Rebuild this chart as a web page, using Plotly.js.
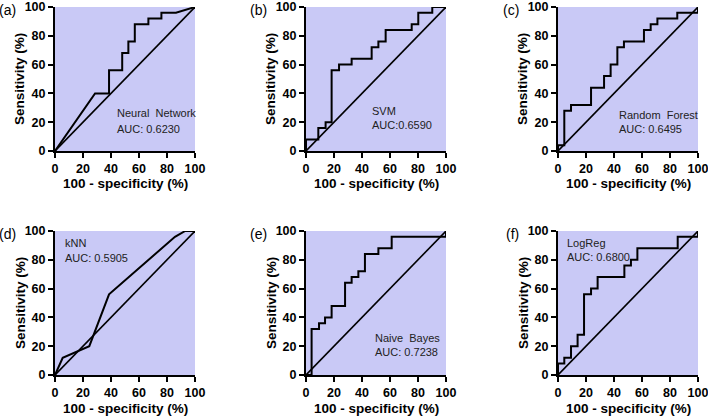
<!DOCTYPE html>
<html><head><meta charset="utf-8">
<script src="https://cdn.plot.ly/plotly-3.0.1.min.js"></script>
<style>html,body{margin:0;padding:0;background:#fff}#chart{width:708px;height:417px}</style>
</head><body><div id="chart"></div>
<script>
// ---- data ----
const panelLabels = ['(a)', '(b)', '(c)', '(d)', '(e)', '(f)'];
const modelNames = ['Neural\u00a0 Network', 'SVM', 'Random\u00a0 Forest', 'kNN', 'Naive\u00a0 Bayes', 'LogReg'];
const aucTexts = ['AUC: 0.6230', 'AUC:0.6590', 'AUC: 0.6495', 'AUC: 0.5905', 'AUC: 0.7238', 'AUC: 0.6800'];

const nnX = [0, 28.6, 38.6, 38.6, 48, 48, 52.4, 52.4, 57, 57, 66.7, 66.7, 76, 76, 86.4, 100];
const nnY = [0, 40, 40, 56, 56, 68, 68, 76, 76, 88, 88, 92, 92, 96, 96, 100];

const svmX = [0, 0, 8.8, 8.8, 14, 14, 18.3, 18.3, 23.6, 23.6, 32.6, 32.6, 46.9, 46.9, 51.7, 51.7, 56.9, 56.9, 75.5, 75.5, 80.2, 80.2, 90.2, 90.2, 100];
const svmY = [0, 8, 8, 16, 16, 20, 20, 56, 56, 60, 60, 64, 64, 72, 72, 76, 76, 84, 84, 88, 88, 96, 96, 100, 100];

const rfX = [0, 0, 4.5, 4.5, 9.3, 9.3, 23.6, 23.6, 32.9, 32.9, 37.6, 37.6, 42.4, 42.4, 47.1, 47.1, 61.4, 61.4, 66.2, 66.2, 71, 71, 85.2, 85.2, 100, 100];
const rfY = [0, 4, 4, 28, 28, 32, 32, 44, 44, 52, 52, 60, 60, 72, 72, 76, 76, 84, 84, 88, 88, 92, 92, 96, 96, 100];

const knnX = [0, 5.5, 24.5, 38.6, 85.7, 93, 100];
const knnY = [0, 12, 20, 56, 96, 100, 100];

const nbX = [0, 4, 4, 9.3, 9.3, 13.6, 13.6, 18.3, 18.3, 27.9, 27.9, 32.6, 32.6, 37.4, 37.4, 42.1, 42.1, 51.7, 51.7, 61.2, 61.2, 100, 100];
const nbY = [0, 0, 32, 32, 36, 36, 40, 40, 48, 48, 64, 64, 68, 68, 72, 72, 84, 84, 88, 88, 96, 96, 100];

const lrX = [0, 0, 4.5, 4.5, 9.3, 9.3, 14, 14, 18.6, 18.6, 23.6, 23.6, 28.3, 28.3, 47.4, 47.4, 52.1, 52.1, 56.7, 56.7, 85.5, 85.5, 100, 100];
const lrY = [0, 8, 8, 12, 12, 20, 20, 28, 28, 56, 56, 60, 60, 68, 68, 76, 76, 80, 80, 88, 88, 96, 96, 100];

const curvesX = [nnX, svmX, rfX, knnX, nbX, lrX];
const curvesY = [nnY, svmY, rfY, knnY, nbY, lrY];
const diagonal = [0, 100];
const tickVals = [0, 20, 40, 60, 80, 100];
const xTitle = '100 - specificity (%)';
const yTitle = 'Sensitivity (%)';

// ---- layout config ----
const W = 708, H = 417;
const colPx = [[55, 195], [306, 446], [558, 698]];
const rowPx = [[7, 151], [231, 375]];
const textPos = [[42.9, 26.7, 15], [45.7, 27.9, 17.9], [42.4, 24.9, 15], [6, 91.9, 81.6], [47.6, 25.8, 15.8], [5, 91.9, 82]];
const FONT = 'Liberation Sans, Arial, sans-serif';
const bg = 'rgb(201,201,246)';

const data = [];
const layout = {
  width: W, height: H, margin: {l: 0, r: 0, t: 0, b: 0},
  paper_bgcolor: '#fff', showlegend: false,
  font: {family: FONT, color: '#000'},
  annotations: [], shapes: []
};

for (let i = 0; i < 6; i++) {
  const r = Math.floor(i / 3), c = i % 3;
  const sfx = i === 0 ? '' : String(i + 1);
  const xa = 'x' + sfx, ya = 'y' + sfx;
  const xd = [colPx[c][0] / W, colPx[c][1] / W];
  const yd = [1 - rowPx[r][1] / H, 1 - rowPx[r][0] / H];
  const axCommon = {
    range: [0, 100], autorange: false, fixedrange: true,
    tickvals: tickVals, ticks: 'outside', ticklen: 5, tickwidth: 2, tickcolor: '#000',
    showline: true, linewidth: 2, linecolor: '#000', showgrid: false, zeroline: false,
    ticklabeloverflow: 'allow',
    tickfont: {family: FONT, size: 12.5, color: '#000', weight: 'bold'}
  };
  layout['xaxis' + sfx] = Object.assign({}, axCommon, {domain: xd, anchor: ya});
  layout['yaxis' + sfx] = Object.assign({}, axCommon, {domain: yd, anchor: xa});
  layout.shapes.push({type: 'rect', xref: xa + ' domain', yref: ya + ' domain', x0: 0, x1: 1, y0: 0, y1: 1,
    fillcolor: bg, line: {width: 0}, layer: 'below'});

  data.push({x: diagonal, y: diagonal, xaxis: xa, yaxis: ya, mode: 'lines', cliponaxis: false,
    line: {color: '#000', width: 1.6}, hoverinfo: 'skip'});
  data.push({x: curvesX[i], y: curvesY[i], xaxis: xa, yaxis: ya, mode: 'lines', cliponaxis: false,
    line: {color: '#000', width: 2}, hoverinfo: 'skip'});

  layout.annotations.push({xref: xa, yref: ya, x: textPos[i][0], y: textPos[i][1], text: modelNames[i],
    showarrow: false, xanchor: 'left', yanchor: 'middle', font: {family: FONT, size: 11, color: '#222'}});
  layout.annotations.push({xref: xa, yref: ya, x: textPos[i][0], y: textPos[i][2], text: aucTexts[i],
    showarrow: false, xanchor: 'left', yanchor: 'middle', font: {family: FONT, size: 11, color: '#222'}});
  layout.annotations.push({xref: 'paper', yref: 'paper', x: (colPx[c][0] + colPx[c][1]) / 2 / W,
    y: 1 - (rowPx[r][1] + 33) / H, text: xTitle, showarrow: false, xanchor: 'center', yanchor: 'middle',
    font: {family: FONT, size: 13.5, color: '#000', weight: 'bold'}});
  layout.annotations.push({xref: 'paper', yref: 'paper', x: (colPx[c][0] - 35) / W,
    y: 1 - (rowPx[r][0] + rowPx[r][1]) / 2 / H, text: yTitle, textangle: -90, showarrow: false,
    xanchor: 'center', yanchor: 'middle', font: {family: FONT, size: 13.5, color: '#000', weight: 'bold'}});
  layout.annotations.push({xref: 'paper', yref: 'paper', x: (colPx[c][0] - 37) / W,
    y: 1 - (rowPx[r][0] + 3) / H, text: panelLabels[i], showarrow: false, xanchor: 'right', yanchor: 'middle',
    font: {family: FONT, size: 14, color: '#000'}});
}

Plotly.newPlot('chart', data, layout, {staticPlot: true, displayModeBar: false});
</script></body></html>
